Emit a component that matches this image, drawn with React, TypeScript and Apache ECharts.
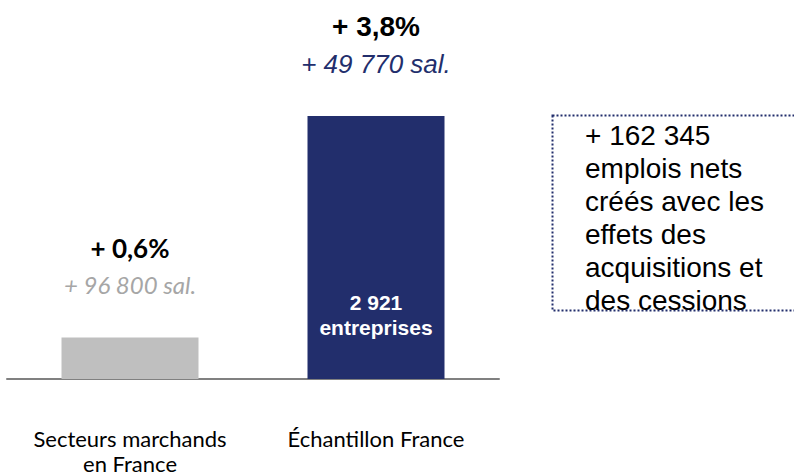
import React, { useEffect, useRef } from "react";
import * as echarts from "echarts";

const categories = ["Secteurs marchands\nen France", "Échantillon France"];
const growthPct = [0.6, 3.8];
const growthLabels = ["+ 0,6%", "+ 3,8%"];
const employeeLabels = ["+ 96 800 sal.", "+ 49 770 sal."];
const insideLabels = ["", "2 921\nentreprises"];
const noteLines = [
  "+ 162 345",
  "emplois nets",
  "créés avec les",
  "effets des",
  "acquisitions et",
  "des cessions",
];

const NAVY = "#222E6C";
const GRAY = "#BFBFBF";

export default function App() {
  const ref = useRef<HTMLDivElement>(null);
  useEffect(() => {
    document.body.style.margin = "0";
    if (!ref.current) return;
    const chart = echarts.init(ref.current, undefined, { renderer: "svg" });
    const topLabel = (i: number) => {
      const calibri = i === 0;
      return {
        show: true,
        position: "top",
        distance: 34,
        formatter: `{b|${growthLabels[i]}}\n{i|${employeeLabels[i]}}`,
        rich: {
          b: {
            fontFamily: calibri ? "Lato" : "Liberation Sans, Arial",
            fontWeight: "bold",
            fontSize: calibri ? 26 : 28,
            color: "#000000",
            lineHeight: 37,
            align: "center",
          },
          i: {
            fontFamily: calibri ? "Lato" : "Liberation Sans, Arial",
            fontStyle: "italic",
            fontSize: calibri ? 24 : 26,
            color: calibri ? "#A6A6A6" : NAVY,
            lineHeight: 37,
            align: "center",
          },
        },
      };
    };
    chart.setOption({
      animation: false,
      grid: { left: 7, right: 295, top: 116, bottom: 95, containLabel: false },
      xAxis: {
        type: "category",
        data: categories,
        axisLine: { show: true, lineStyle: { color: "#808080", width: 2 } },
        axisTick: { show: false },
        axisLabel: {
          margin: 47,
          fontFamily: "Lato",
          fontSize: 22,
          color: "#000000",
          lineHeight: 25,
          interval: 0,
        },
      },
      yAxis: {
        type: "value",
        min: 0,
        max: 3.8,
        show: false,
        splitLine: { show: false },
      },
      series: [
        {
          type: "bar",
          barWidth: 137,
          data: growthPct.map((v, i) => ({
            value: v,
            itemStyle: { color: i === 0 ? GRAY : NAVY },
            label: topLabel(i),
          })),
        },
        {
          type: "bar",
          barWidth: 137,
          barGap: "-100%",
          silent: true,
          data: growthPct.map((v, i) => ({
            value: v,
            itemStyle: { color: "transparent" },
            label: {
              show: insideLabels[i] !== "",
              position: "insideBottom",
              distance: 39,
              formatter: insideLabels[i],
              fontFamily: "Liberation Sans, Arial",
              fontWeight: "bold",
              fontSize: 21,
              lineHeight: 25,
              color: "#FFFFFF",
              align: "center",
            },
          })),
        },
      ],
      graphic: [
        {
          type: "rect",
          shape: { x: 552.5, y: 115.5, width: 260, height: 195 },
          style: {
            fill: "none",
            stroke: NAVY,
            lineWidth: 2,
            lineDash: [2, 2],
          },
        },
        {
          type: "text",
          left: 585,
          top: 119,
          style: {
            text: noteLines.join("\n"),
            fontFamily: "Liberation Sans, Arial",
            fontSize: 28,
            lineHeight: 33,
            fill: "#000000",
          },
        },
      ],
    });
    return () => chart.dispose();
  }, []);
  return <div ref={ref} style={{ width: 794, height: 476 }} />;
}
